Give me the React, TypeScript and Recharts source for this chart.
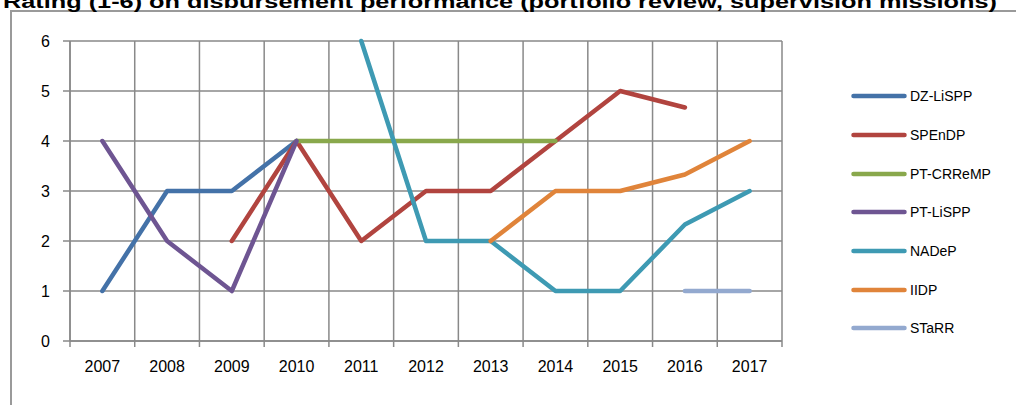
import { CartesianGrid, Legend, Line, LineChart, XAxis, YAxis } from "recharts";

const years = [2007, 2008, 2009, 2010, 2011, 2012, 2013, 2014, 2015, 2016, 2017];
const yTicks = [0, 1, 2, 3, 4, 5, 6];

const dzLispp = [1, 3, 3, 4, null, null, null, null, null, null, null];
const spendp = [null, null, 2, 4, 2, 3, 3, 4, 5, 4.67, null];
const ptCrremp = [null, null, null, 4, 4, 4, 4, 4, null, null, null];
const ptLispp = [4, 2, 1, 4, null, null, null, null, null, null, null];
const nadep = [null, null, null, null, 6, 2, 2, 1, 1, 2.33, 3];
const iidp = [null, null, null, null, null, null, 2, 3, 3, 3.33, 4];
const starr = [null, null, null, null, null, null, null, null, null, 1, 1];

const seriesList = [
  { name: "DZ-LiSPP", values: dzLispp, color: "#4472a8" },
  { name: "SPEnDP", values: spendp, color: "#b1443f" },
  { name: "PT-CRReMP", values: ptCrremp, color: "#89a84c" },
  { name: "PT-LiSPP", values: ptLispp, color: "#6e5592" },
  { name: "NADeP", values: nadep, color: "#3e9ab3" },
  { name: "IIDP", values: iidp, color: "#e0843a" },
  { name: "STaRR", values: starr, color: "#93a9cf" }
];

const title = "Rating (1-6) on disbursement performance (portfolio review, supervision missions)";

const data = years.map((year, i) => {
  const row: Record<string, number | null> = { year };
  seriesList.forEach((s) => {
    row[s.name] = s.values[i];
  });
  return row;
});

// grid boundaries sit between the years
const bounds = [...years.map((y) => y - 0.5), years[years.length - 1] + 0.5];

const FONT = "'Liberation Sans', Arial, sans-serif";
const GRID = "#898989";
const HALF_BAND = (1016 - 234 - 70) / years.length / 2;

function YearTick(props: any) {
  const { x, y, index } = props;
  if (index >= years.length) return null;
  return (
    <text x={x + HALF_BAND} y={y + 17} textAnchor="middle" dominantBaseline="central" fontSize={16} fontFamily={FONT} fill="#000">
      {years[index]}
    </text>
  );
}

function LegendBox() {
  return (
    <div style={{ fontFamily: FONT, fontSize: 14, color: "#000" }}>
      {seriesList.map((s) => (
        <div key={s.name} style={{ height: 38.7, display: "flex", alignItems: "center" }}>
          <svg width={59} height={10} style={{ display: "block" }}>
            <line x1={2.5} y1={5} x2={53.5} y2={5} stroke={s.color} strokeWidth={4.5} strokeLinecap="round" />
          </svg>
          <span>{s.name}</span>
        </div>
      ))}
    </div>
  );
}

export default function App() {
  return (
    <div style={{ position: "absolute", left: 0, top: 0, width: 1016, height: 405, overflow: "hidden", background: "#fff" }}>
      <div style={{ position: "absolute", left: 10, top: 10, right: 0, bottom: 0, borderTop: "2px solid #9a9a9a", borderLeft: "2px solid #9a9a9a" }} />
      <svg width={1016} height={20} style={{ position: "absolute", left: 0, top: 0 }}>
        <text x={3} y={7.5} fontSize={18} fontWeight="bold" fontFamily={FONT} fill="#000" textLength={994} lengthAdjust="spacingAndGlyphs">
          {title}
        </text>
      </svg>
      <div style={{ position: "absolute", left: 0, top: 0 }}>
        <LineChart width={1016} height={405} data={data} margin={{ top: 41, right: 234, bottom: 0, left: 0 }}>
          <CartesianGrid stroke={GRID} strokeWidth={1.5} />
          <XAxis
            type="number"
            dataKey="year"
            domain={[bounds[0], bounds[bounds.length - 1]]}
            ticks={bounds}
            interval={0}
            height={64}
            tickSize={6}
            stroke={GRID}
            axisLine={{ stroke: GRID, strokeWidth: 1.5 }}
            tickLine={{ stroke: GRID, strokeWidth: 1.5 }}
            tick={<YearTick />}
          />
          <YAxis
            domain={[0, 6]}
            ticks={yTicks}
            interval={0}
            width={70}
            tickSize={7}
            tickMargin={13}
            axisLine={{ stroke: GRID, strokeWidth: 1.5 }}
            tickLine={{ stroke: GRID, strokeWidth: 1.5 }}
            tick={{ fontSize: 16, fontFamily: FONT, fill: "#000" }}
          />
          <Legend
            layout="vertical"
            align="center"
            verticalAlign="middle"
            content={<LegendBox />}
            wrapperStyle={{ left: 851, top: 77, width: 165, right: "auto", bottom: "auto" }}
          />
          {seriesList.map((s) => (
            <Line
              key={s.name}
              type="linear"
              dataKey={s.name}
              name={s.name}
              stroke={s.color}
              strokeWidth={4.5}
              strokeLinecap="round"
              strokeLinejoin="round"
              dot={false}
              activeDot={false}
              connectNulls={false}
              isAnimationActive={false}
            />
          ))}
        </LineChart>
      </div>
    </div>
  );
}
